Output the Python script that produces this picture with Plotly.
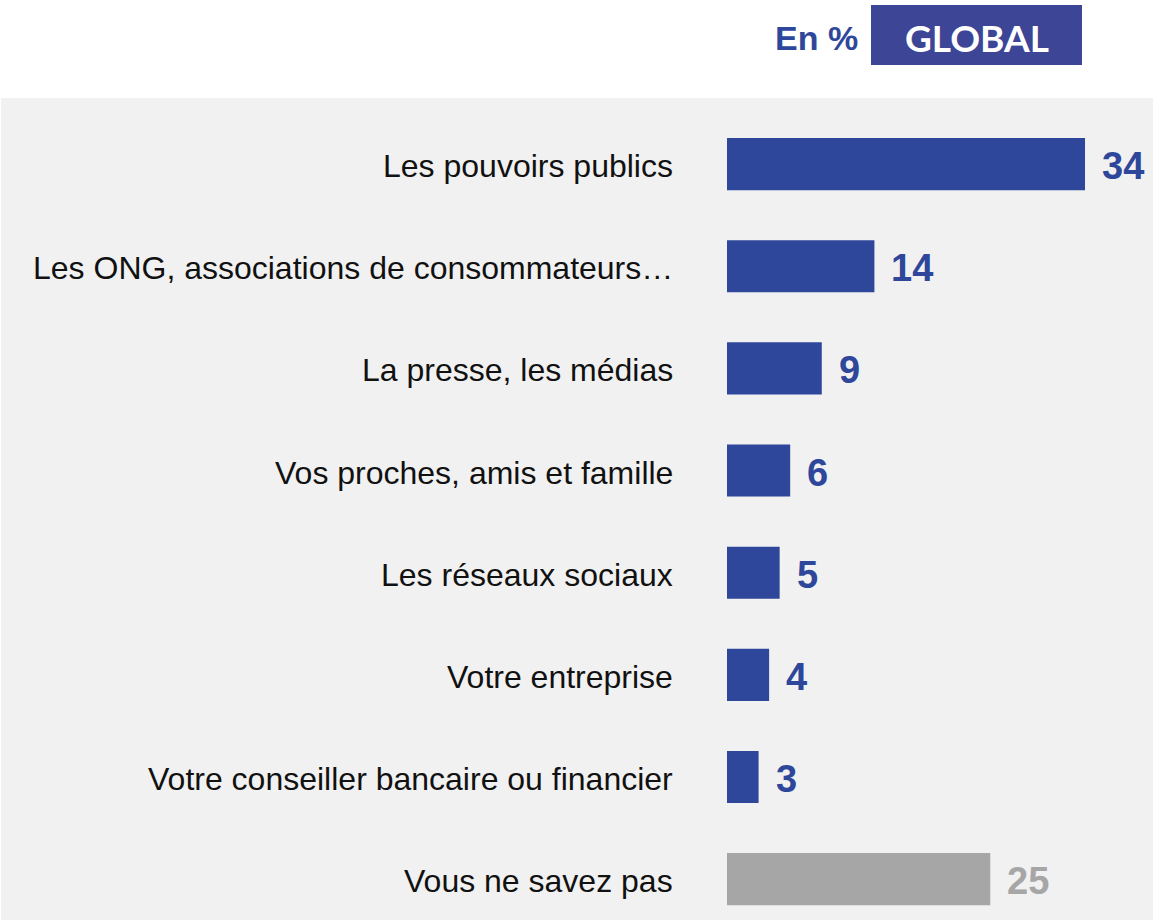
import plotly.graph_objects as go

categories = [
    "Les pouvoirs publics",
    "Les ONG, associations de consommateurs…",
    "La presse, les médias",
    "Vos proches, amis et famille",
    "Les réseaux sociaux",
    "Votre entreprise",
    "Votre conseiller bancaire ou financier",
    "Vous ne savez pas",
]
values = [34, 14, 9, 6, 5, 4, 3, 25]
bar_colors = ["#2f479b"] * 7 + ["#a6a6a6"]
label_colors = ["#2f479b"] * 7 + ["#a6a6a6"]

W, H = 1153, 920
BLUE = "#2f479b"

fig = go.Figure()
fig.add_trace(go.Bar(
    x=values, y=categories, orientation="h",
    marker=dict(color=bar_colors, line=dict(width=0)),
    width=0.51, hoverinfo="skip",
))

annotations = []
for c in categories:
    annotations.append(dict(
        x=675 / W, xref="paper", y=c, yref="y", text=c, showarrow=False,
        xanchor="right", yanchor="middle", yshift=-2,
        font=dict(family="Liberation Sans, Arial", size=32, color="#111111"),
    ))
for c, v, col in zip(categories, values, label_colors):
    annotations.append(dict(
        x=v, xref="x", y=c, yref="y", text=f"<b>{v}</b>", showarrow=False,
        xanchor="left", yanchor="middle", xshift=15, yshift=-2,
        font=dict(family="Liberation Sans, Arial", size=38, color=col),
    ))
annotations.append(dict(
    x=860 / W, xref="paper", y=1 - 38 / H, yref="paper", text="<b>En %</b>",
    showarrow=False, xanchor="right", yanchor="middle",
    font=dict(family="Liberation Sans, Arial", size=34, color=BLUE),
))
annotations.append(dict(
    x=977 / W, xref="paper", y=1 - 37 / H, yref="paper", text="<b>GLOBAL</b>",
    showarrow=False, xanchor="center", yanchor="middle",
    font=dict(family="Lato, Liberation Sans", size=37, color="white"),
))

shapes = [
    dict(type="rect", xref="paper", yref="paper", x0=1 / W, x1=1, y0=0, y1=1 - 98 / H,
         fillcolor="#f1f1f1", line=dict(width=0), layer="below"),
    dict(type="rect", xref="paper", yref="paper", x0=871 / W, x1=1082 / W,
         y0=1 - 65 / H, y1=1 - 5 / H, fillcolor="#3c4596", line=dict(width=0), layer="below"),
]

fig.update_layout(
    width=W, height=H,
    margin=dict(l=0, r=0, t=0, b=0),
    paper_bgcolor="white", plot_bgcolor="rgba(0,0,0,0)",
    showlegend=False,
    xaxis=dict(domain=[727 / W, 1], range=[0, 426 / 10.53], visible=False, fixedrange=True),
    yaxis=dict(domain=[0, 1 - 98 / H], range=[7.40, -0.647], visible=False,
               type="category", categoryorder="array", categoryarray=categories, fixedrange=True),
    annotations=annotations,
    shapes=shapes,
)

fig.write_html(
    "out.html",
    config={"displayModeBar": False},
    post_script="document.body.style.margin='0';document.body.style.overflow='hidden';",
)
